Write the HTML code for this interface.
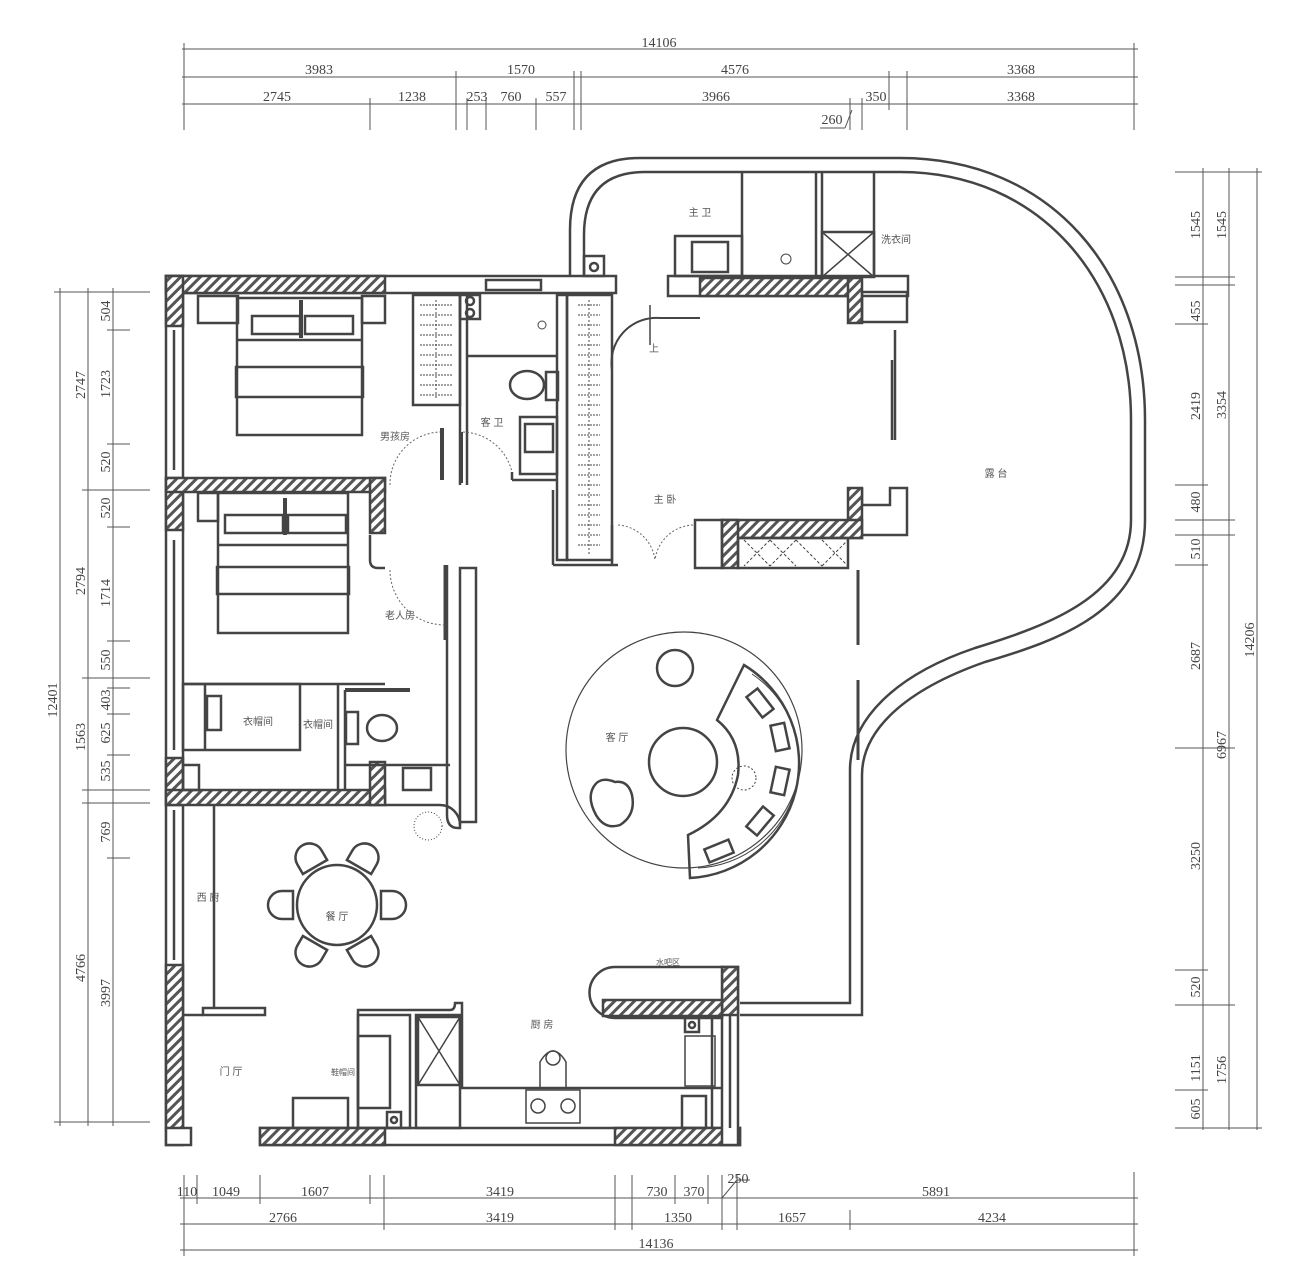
<!DOCTYPE html>
<html><head><meta charset="utf-8"><style>
html,body{margin:0;padding:0;background:#fff}
svg{display:block}
.d{font-family:"Liberation Serif",serif;font-size:14px;fill:#444}
.l{font-family:"Liberation Sans","Noto Sans CJK SC",sans-serif;font-size:10px;fill:#555}
</style></head><body>
<svg width="1306" height="1288" viewBox="0 0 1306 1288" xmlns="http://www.w3.org/2000/svg">
<defs>
<pattern id="h" width="7" height="7" patternUnits="userSpaceOnUse" patternTransform="rotate(45)">
<rect width="7" height="7" fill="#fff"/><rect width="3" height="7" fill="#555"/></pattern>
<path id="ch" d="M-14,0 V-11 A14,14 0 0 1 14,-11 V0 Z"/>
</defs>
<g stroke="#555" stroke-width="1" fill="none">
<line x1="182" y1="49" x2="1138" y2="49"/>
<line x1="182" y1="77" x2="1138" y2="77"/>
<line x1="182" y1="104" x2="1138" y2="104"/>
<g>
<line x1="184" y1="43" x2="184" y2="130"/><line x1="1134" y1="43" x2="1134" y2="130"/>
<line x1="456" y1="71" x2="456" y2="130"/><line x1="574" y1="71" x2="574" y2="130"/><line x1="581" y1="71" x2="581" y2="130"/>
<line x1="889" y1="71" x2="889" y2="110"/><line x1="907" y1="71" x2="907" y2="130"/>
<line x1="370" y1="98" x2="370" y2="130"/><line x1="467" y1="98" x2="467" y2="130"/><line x1="486" y1="98" x2="486" y2="130"/>
<line x1="536" y1="98" x2="536" y2="130"/><line x1="862" y1="98" x2="862" y2="130"/><line x1="850" y1="98" x2="850" y2="130"/>
<line x1="820" y1="128" x2="845" y2="128"/><line x1="845" y1="128" x2="852" y2="110"/>
</g>
<line x1="180" y1="1198" x2="1138" y2="1198"/>
<line x1="180" y1="1224" x2="1138" y2="1224"/>
<line x1="180" y1="1250" x2="1138" y2="1250"/>
<g>
<line x1="184" y1="1175" x2="184" y2="1256"/><line x1="1134" y1="1172" x2="1134" y2="1256"/>
<line x1="197" y1="1175" x2="197" y2="1204"/><line x1="260" y1="1175" x2="260" y2="1204"/>
<line x1="370" y1="1175" x2="370" y2="1204"/><line x1="384" y1="1175" x2="384" y2="1230"/>
<line x1="615" y1="1175" x2="615" y2="1230"/><line x1="632" y1="1175" x2="632" y2="1230"/>
<line x1="675" y1="1175" x2="675" y2="1204"/><line x1="708" y1="1175" x2="708" y2="1204"/>
<line x1="722" y1="1175" x2="722" y2="1230"/><line x1="737" y1="1175" x2="737" y2="1230"/>
<line x1="850" y1="1210" x2="850" y2="1230"/>
<line x1="722" y1="1198" x2="737" y2="1180"/><line x1="737" y1="1180" x2="750" y2="1180"/>
</g>
<line x1="60" y1="288" x2="60" y2="1126"/>
<line x1="88" y1="288" x2="88" y2="1126"/>
<line x1="113" y1="288" x2="113" y2="1126"/>
<g>
<line x1="54" y1="292" x2="150" y2="292"/><line x1="54" y1="1122" x2="150" y2="1122"/>
<line x1="82" y1="490" x2="150" y2="490"/><line x1="82" y1="678" x2="150" y2="678"/><line x1="82" y1="790" x2="150" y2="790"/>
<line x1="82" y1="803" x2="150" y2="803"/>
<line x1="107" y1="330" x2="130" y2="330"/><line x1="107" y1="444" x2="130" y2="444"/>
<line x1="107" y1="527" x2="130" y2="527"/><line x1="107" y1="641" x2="130" y2="641"/>
<line x1="107" y1="688" x2="130" y2="688"/><line x1="107" y1="714" x2="130" y2="714"/><line x1="107" y1="755" x2="130" y2="755"/>
<line x1="107" y1="858" x2="130" y2="858"/>
</g>
<line x1="1203" y1="168" x2="1203" y2="1130"/>
<line x1="1229" y1="168" x2="1229" y2="1130"/>
<line x1="1257" y1="168" x2="1257" y2="1130"/>
<g>
<line x1="1175" y1="172" x2="1262" y2="172"/><line x1="1175" y1="277" x2="1235" y2="277"/>
<line x1="1175" y1="285" x2="1235" y2="285"/><line x1="1175" y1="324" x2="1208" y2="324"/>
<line x1="1175" y1="485" x2="1208" y2="485"/><line x1="1175" y1="520" x2="1235" y2="520"/>
<line x1="1175" y1="535" x2="1235" y2="535"/><line x1="1175" y1="565" x2="1208" y2="565"/>
<line x1="1175" y1="748" x2="1235" y2="748"/><line x1="1175" y1="970" x2="1208" y2="970"/>
<line x1="1175" y1="1005" x2="1235" y2="1005"/><line x1="1175" y1="1090" x2="1208" y2="1090"/>
<line x1="1175" y1="1128" x2="1262" y2="1128"/>
</g>
</g>
<g class="d" text-anchor="middle">
<text x="659" y="47">14106</text>
<text x="319" y="74">3983</text><text x="521" y="74">1570</text><text x="735" y="74">4576</text><text x="1021" y="74">3368</text>
<text x="277" y="101">2745</text><text x="412" y="101">1238</text><text x="477" y="101">253</text><text x="511" y="101">760</text><text x="556" y="101">557</text><text x="716" y="101">3966</text><text x="876" y="101">350</text><text x="1021" y="101">3368</text>
<text x="832" y="124">260</text>
<text x="187" y="1196">110</text><text x="226" y="1196">1049</text><text x="315" y="1196">1607</text><text x="500" y="1196">3419</text><text x="657" y="1196">730</text><text x="694" y="1196">370</text><text x="738" y="1183">250</text><text x="936" y="1196">5891</text>
<text x="283" y="1222">2766</text><text x="500" y="1222">3419</text><text x="678" y="1222">1350</text><text x="792" y="1222">1657</text><text x="992" y="1222">4234</text>
<text x="656" y="1248">14136</text>
</g>
<g class="d" text-anchor="middle">
<text transform="translate(57,700) rotate(-90)">12401</text>
<text transform="translate(85,385) rotate(-90)">2747</text>
<text transform="translate(85,581) rotate(-90)">2794</text>
<text transform="translate(85,737) rotate(-90)">1563</text>
<text transform="translate(85,968) rotate(-90)">4766</text>
<text transform="translate(110,311) rotate(-90)">504</text>
<text transform="translate(110,384) rotate(-90)">1723</text>
<text transform="translate(110,462) rotate(-90)">520</text>
<text transform="translate(110,508) rotate(-90)">520</text>
<text transform="translate(110,593) rotate(-90)">1714</text>
<text transform="translate(110,660) rotate(-90)">550</text>
<text transform="translate(110,700) rotate(-90)">403</text>
<text transform="translate(110,733) rotate(-90)">625</text>
<text transform="translate(110,771) rotate(-90)">535</text>
<text transform="translate(110,832) rotate(-90)">769</text>
<text transform="translate(110,993) rotate(-90)">3997</text>
<text transform="translate(1200,225) rotate(-90)">1545</text>
<text transform="translate(1200,311) rotate(-90)">455</text>
<text transform="translate(1200,406) rotate(-90)">2419</text>
<text transform="translate(1200,502) rotate(-90)">480</text>
<text transform="translate(1200,549) rotate(-90)">510</text>
<text transform="translate(1200,656) rotate(-90)">2687</text>
<text transform="translate(1200,856) rotate(-90)">3250</text>
<text transform="translate(1200,987) rotate(-90)">520</text>
<text transform="translate(1200,1068) rotate(-90)">1151</text>
<text transform="translate(1200,1109) rotate(-90)">605</text>
<text transform="translate(1226,225) rotate(-90)">1545</text>
<text transform="translate(1226,405) rotate(-90)">3354</text>
<text transform="translate(1226,745) rotate(-90)">6967</text>
<text transform="translate(1226,1070) rotate(-90)">1756</text>
<text transform="translate(1254,640) rotate(-90)">14206</text>
</g>

<g stroke="#444" stroke-width="2.5" fill="none">
<path d="M570,276 V230 Q570,158 640,158 H900 C1050,158 1145,270 1145,420 V520 C1145,610 1060,640 985,662 C905,690 862,730 862,775 V1015 H740"/>
<path d="M584,276 V235 Q584,172 645,172 H900 C1040,172 1131,280 1131,420 V520 C1131,595 1050,625 975,648 C895,675 850,720 850,770 V1003 H740"/>
<rect x="166" y="276" width="17" height="869" fill="#fff"/>
<line x1="174" y1="330" x2="174" y2="470"/><line x1="174" y1="540" x2="174" y2="750"/><line x1="174" y1="810" x2="174" y2="960"/>
<rect x="166" y="276" width="450" height="17" fill="#fff"/>
<rect x="166" y="276" width="219" height="17" fill="url(#h)"/>
<rect x="166" y="276" width="17" height="50" fill="url(#h)"/>
<rect x="166" y="478" width="17" height="52" fill="url(#h)"/>
<rect x="166" y="758" width="17" height="47" fill="url(#h)"/>
<rect x="166" y="965" width="17" height="165" fill="url(#h)"/>
<rect x="166" y="1128" width="25" height="17" fill="#fff"/>
<rect x="486" y="280" width="55" height="10"/>
<rect x="166" y="478" width="219" height="14" fill="url(#h)"/>
<rect x="370" y="478" width="15" height="55" fill="url(#h)"/>
<rect x="166" y="790" width="219" height="15" fill="url(#h)"/>
<rect x="370" y="762" width="15" height="43" fill="url(#h)"/>
<rect x="260" y="1128" width="480" height="17" fill="#fff"/>
<rect x="260" y="1128" width="125" height="17" fill="url(#h)"/>
<rect x="615" y="1128" width="125" height="17" fill="url(#h)"/>
<rect x="722" y="967" width="16" height="178" fill="#fff"/>
<rect x="722" y="967" width="16" height="48" fill="url(#h)"/>
<line x1="730" y1="1015" x2="730" y2="1128"/>
<path d="M615,967 H722 V1018 H615 A25,25 0 0 1 615,967 Z" fill="#fff"/>
<rect x="603" y="1000" width="119" height="16" fill="url(#h)"/>
<rect x="668" y="276" width="240" height="20" fill="#fff"/>
<rect x="700" y="278" width="160" height="18" fill="url(#h)"/>
<rect x="848" y="278" width="14" height="45" fill="url(#h)"/>
<rect x="862" y="292" width="45" height="30"/>
<line x1="895" y1="330" x2="895" y2="440"/><line x1="892" y1="360" x2="892" y2="440"/>
<path d="M862,488 V505 H890 V488 H907 V535 H862"/>
<rect x="848" y="488" width="14" height="50" fill="url(#h)"/>
<rect x="722" y="520" width="140" height="18" fill="url(#h)"/>
<rect x="722" y="520" width="16" height="48" fill="url(#h)"/>
<rect x="738" y="538" width="110" height="30"/>
<rect x="695" y="520" width="27" height="48"/>
<path d="M744,540 L770,566 M770,540 L744,566 M770,540 L796,566 M796,540 L770,566 M796,540 L822,566 M822,540 L848,566 M822,566 L848,540" stroke-width="1" stroke-dasharray="3,2"/>
<line x1="858" y1="570" x2="858" y2="645" stroke-width="3"/>
<line x1="858" y1="680" x2="858" y2="760" stroke-width="3"/>
<line x1="742" y1="172" x2="742" y2="278"/><line x1="816" y1="172" x2="816" y2="278"/><line x1="822" y1="172" x2="822" y2="278"/>
<line x1="874" y1="172" x2="874" y2="278"/>
<rect x="822" y="232" width="52" height="45"/><path d="M822,232 L874,277 M874,232 L822,277" stroke-width="1.5"/>
<rect x="675" y="236" width="67" height="40"/><rect x="692" y="242" width="36" height="30"/>
<rect x="584" y="256" width="20" height="20"/><circle cx="594" cy="267" r="4"/>
<rect x="567" y="295" width="45" height="265"/>
<rect x="557" y="295" width="10" height="265"/>
<line x1="589" y1="300" x2="589" y2="555" stroke-width="1" stroke-dasharray="2,2"/>
<path d="M578,305 H600 M578,315 H600 M578,325 H600 M578,335 H600 M578,345 H600 M578,355 H600 M578,365 H600 M578,375 H600 M578,385 H600 M578,395 H600 M578,405 H600 M578,415 H600 M578,425 H600 M578,435 H600 M578,445 H600 M578,455 H600 M578,465 H600 M578,475 H600 M578,485 H600 M578,495 H600 M578,505 H600 M578,515 H600 M578,525 H600 M578,535 H600 M578,545 H600" stroke-width="1" stroke-dasharray="2,1"/>
<rect x="413" y="295" width="47" height="110"/>
<line x1="436" y1="300" x2="436" y2="400" stroke-width="1" stroke-dasharray="2,2"/>
<path d="M420,305 H452 M420,315 H452 M420,325 H452 M420,335 H452 M420,345 H452 M420,355 H452 M420,365 H452 M420,375 H452 M420,385 H452 M420,395 H452" stroke-width="1" stroke-dasharray="2,1"/>
<line x1="460" y1="295" x2="460" y2="485"/><line x1="467" y1="295" x2="467" y2="485"/>
<line x1="467" y1="356" x2="557" y2="356"/>
<rect x="460" y="295" width="20" height="24"/><circle cx="470" cy="301" r="4"/><circle cx="470" cy="313" r="4"/>
<ellipse cx="527" cy="385" rx="17" ry="14"/><rect x="546" y="372" width="12" height="28"/>
<rect x="520" y="417" width="37" height="57"/><rect x="525" y="424" width="28" height="28"/>
<line x1="512" y1="480" x2="557" y2="480"/><line x1="512" y1="472" x2="512" y2="480"/>
<line x1="553" y1="490" x2="553" y2="565"/><line x1="553" y1="565" x2="618" y2="565"/>
<line x1="612" y1="525" x2="612" y2="565"/>
<rect x="198" y="296" width="40" height="27"/><rect x="362" y="296" width="23" height="27"/>
<rect x="237" y="298" width="125" height="137"/>
<line x1="237" y1="340" x2="362" y2="340"/><rect x="236" y="367" width="127" height="30"/>
<rect x="252" y="316" width="48" height="18"/><rect x="305" y="316" width="48" height="18"/>
<line x1="301" y1="300" x2="301" y2="338" stroke-width="4"/>
<line x1="442" y1="428" x2="442" y2="480" stroke-width="4"/>
<line x1="461" y1="432" x2="461" y2="483" stroke-width="4"/>
<rect x="198" y="493" width="20" height="28"/>
<rect x="218" y="493" width="130" height="140"/>
<line x1="218" y1="545" x2="348" y2="545"/><rect x="217" y="567" width="132" height="27"/>
<rect x="225" y="515" width="58" height="18"/><rect x="288" y="515" width="58" height="18"/>
<line x1="285" y1="498" x2="285" y2="535" stroke-width="4"/>
<path d="M370,535 V560 Q370,568 378,568 H385"/>
<line x1="183" y1="684" x2="385" y2="684"/><rect x="183" y="684" width="117" height="66"/><line x1="205" y1="684" x2="205" y2="750"/>
<rect x="207" y="696" width="14" height="34"/>
<line x1="338" y1="684" x2="338" y2="790"/><line x1="345" y1="690" x2="345" y2="790"/>
<line x1="345" y1="690" x2="410" y2="690" stroke-width="4"/>
<ellipse cx="382" cy="728" rx="15" ry="13"/><rect x="346" y="712" width="12" height="32"/>
<rect x="183" y="765" width="16" height="25"/>
<line x1="345" y1="765" x2="450" y2="765"/>
<rect x="403" y="768" width="28" height="22"/>
<path d="M447,565 V815 Q447,828 458,828 H460 V568 H476 V822 H460"/>
<line x1="445" y1="565" x2="445" y2="640" stroke-width="3"/>
<path d="M385,805 H440 A20,20 0 0 1 460,825"/>
<circle cx="684" cy="750" r="118" stroke-width="1.2"/>
<circle cx="683" cy="762" r="34"/>
<circle cx="675" cy="668" r="18"/>
<path d="M592,790 Q598,775 615,782 Q628,780 632,795 Q636,815 620,825 Q605,830 596,815 Q588,800 592,790 Z"/>
<path d="M744,665 A115,115 0 0 1 690,878 L688,835 Q730,815 738,775 Q742,740 717,720 Z"/>
<path d="M752,674 A106,106 0 0 1 698,868" stroke-width="1"/>
<rect x="753" y="690" width="14" height="26" transform="rotate(-38 760 703)"/>
<rect x="773" y="724" width="14" height="26" transform="rotate(-12 780 737)"/>
<rect x="773" y="768" width="14" height="26" transform="rotate(12 780 781)"/>
<rect x="753" y="808" width="14" height="26" transform="rotate(40 760 821)"/>
<rect x="712" y="838" width="14" height="26" transform="rotate(68 719 851)"/>
<circle cx="744" cy="778" r="12" stroke-width="1" stroke-dasharray="2,2"/>
<circle cx="337" cy="905" r="40"/>
<use href="#ch" transform="translate(293,905) rotate(270)"/>
<use href="#ch" transform="translate(381,905) rotate(90)"/>
<use href="#ch" transform="translate(315,867) rotate(-30)"/>
<use href="#ch" transform="translate(359,867) rotate(30)"/>
<use href="#ch" transform="translate(315,943) rotate(210)"/>
<use href="#ch" transform="translate(359,943) rotate(150)"/>
<line x1="214" y1="805" x2="214" y2="1008"/>
<rect x="203" y="1008" width="62" height="7"/>
<line x1="183" y1="1015" x2="203" y2="1015"/>
<rect x="293" y="1098" width="55" height="30"/>
<path d="M358,1128 V1010 H450 Q455,1010 455,1003 H462 V1088 H722"/>
<rect x="358" y="1015" width="52" height="113"/><rect x="358" y="1036" width="32" height="72"/>
<rect x="387" y="1112" width="14" height="16"/><circle cx="394" cy="1120" r="3"/>
<rect x="416" y="1015" width="44" height="113"/>
<rect x="418" y="1017" width="42" height="68"/><path d="M418,1017 L460,1085 M460,1017 L418,1085" stroke-width="1.5"/>
<rect x="526" y="1090" width="54" height="33" stroke-width="1.5"/>
<circle cx="538" cy="1106" r="7" stroke-width="1.5"/><circle cx="568" cy="1106" r="7" stroke-width="1.5"/>
<path d="M540,1088 V1062 Q553,1040 566,1062 V1088" stroke-width="1.5"/><circle cx="553" cy="1058" r="7" stroke-width="1.5"/>
<rect x="685" y="1018" width="14" height="14"/><circle cx="692" cy="1025" r="3"/>
<rect x="685" y="1036" width="30" height="50" stroke-width="1.5"/>
<rect x="682" y="1096" width="24" height="32"/>
<line x1="712" y1="1015" x2="712" y2="1128"/>
<g stroke-width="1" stroke-dasharray="2,2" stroke="#666">
<path d="M390,485 A52,52 0 0 1 440,432"/>
<path d="M463,432 A52,52 0 0 1 512,472"/>
<path d="M390,570 A55,55 0 0 0 445,625"/>
<path d="M618,525 A40,40 0 0 1 655,560"/>
<path d="M693,525 A40,40 0 0 0 655,560"/>
</g>
<path d="M612,370 A45,45 0 0 1 660,318 H700" stroke-width="2"/>
<line x1="650" y1="305" x2="650" y2="345" stroke-width="1.5"/>
<circle cx="428" cy="826" r="14" stroke-width="1" stroke-dasharray="1,2"/>
<circle cx="542" cy="325" r="4" stroke-width="1"/><circle cx="786" cy="259" r="5" stroke-width="1"/>
</g>
<g class="l" text-anchor="middle">
<text x="395" y="440">男孩房</text><text x="492" y="426">客 卫</text><text x="700" y="216">主 卫</text>
<text x="896" y="243">洗衣间</text><text x="665" y="503">主 卧</text><text x="996" y="477">露 台</text>
<text x="400" y="619">老人房</text><text x="258" y="725">衣帽间</text><text x="318" y="728">衣帽间</text>
<text x="617" y="741">客 厅</text><text x="337" y="920">餐 厅</text><text x="208" y="901">西 厨</text>
<text x="668" y="965" font-size="8">水吧区</text><text x="542" y="1028">厨 房</text><text x="231" y="1075">门 厅</text>
<text x="343" y="1075" font-size="8">鞋帽间</text><text x="654" y="352">上</text>
</g>
</svg>
</body></html>
